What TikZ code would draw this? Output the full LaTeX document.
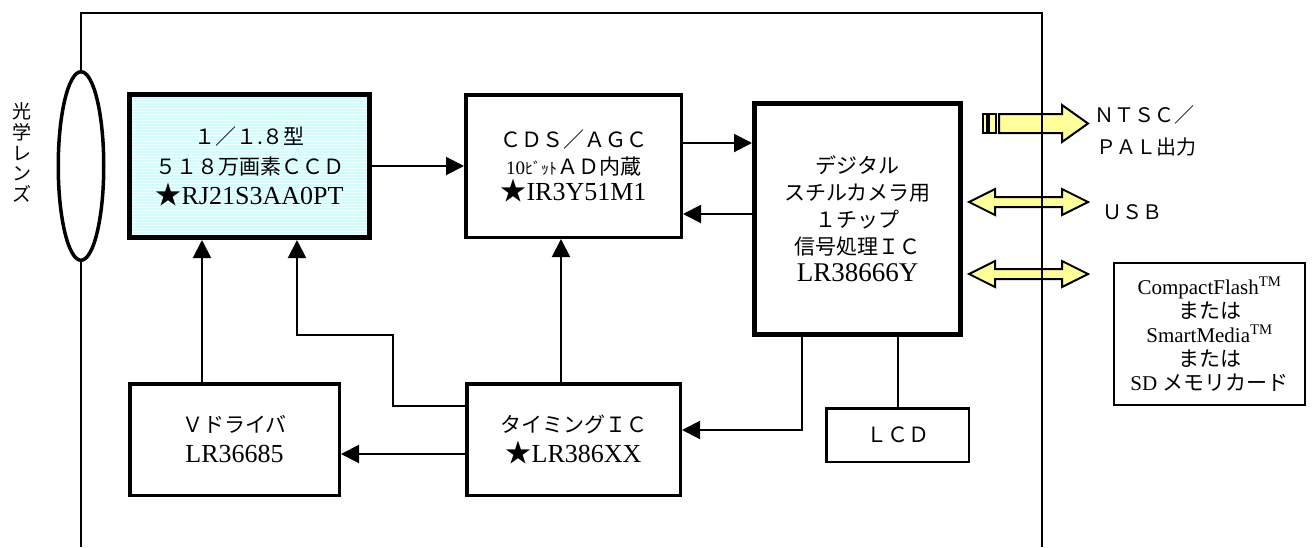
\documentclass[tikz,border=0pt]{standalone}
\usepackage{fontspec}
\setmainfont{Liberation Serif}
\newfontfamily\jp{Noto Sans CJK JP}
\usetikzlibrary{arrows.meta,shapes.geometric}
\definecolor{ccdcyan}{RGB}{204,255,255}
\definecolor{portyellow}{RGB}{255,255,153}
\newcommand\jt[1]{{\jp\fontsize{21}{24}\selectfont #1}}
\newcommand\jstar{{\jp ★}}

\begin{document}
\begin{tikzpicture}[x=1pt, y=-1pt,
		blk/.style = {draw, line width=3.5pt, align=center, font=\fontsize{26}{30}\selectfont},
		heavy/.style = {blk, line width=5pt},
		arr/.style = {line width=2pt, -{Triangle[length=18pt,width=18pt]}},
		port/.style = {draw, line width=2pt, fill=portyellow}]

	\useasboundingbox (0,0) rectangle (1315,547);

	% blocks
	\node[heavy, fill=ccdcyan, minimum width=240pt, minimum height=143pt,
		path picture={\foreach \yy in {1.5,4.5,...,150} \draw[white, line width=1pt] ([yshift=-\yy pt]path picture bounding box.north west) -- ++(260,0);}]
		(ccd) at (249.5,166) {\jt{１／１.８型}\\ \jt{５１８万画素ＣＣＤ}\\ \jstar RJ21S3AA0PT};
	\node[blk, minimum width=215.5pt, minimum height=142.5pt, font=\fontsize{26}{26.5}\selectfont]
		(cds) at (573.5,166) {\jt{ＣＤＳ／ＡＧＣ}\\ {\fontsize{19}{20}\selectfont 10}{\jp\fontsize{16}{20}\selectfont ﾋﾞｯﾄ}\jt{ＡＤ内蔵}\\ \jstar IR3Y51M1};
	\node[heavy, minimum width=206pt, minimum height=231pt, font=\fontsize{27}{27}\selectfont]
		(dsp) at (857.5,219) {\jt{デジタル}\\ \jt{スチルカメラ用}\\ \jt{１チップ}\\ \jt{信号処理ＩＣ}\\ LR38666Y};
	\node[blk, minimum width=209.5pt, minimum height=111.5pt] (vdrv) at (234.5,439.5) {\jt{Ｖドライバ}\\ LR36685};
	\node[blk, minimum width=213.5pt, minimum height=111.5pt] (timing) at (573.5,439.5) {\jt{タイミングＩＣ}\\ \jstar LR386XX};
	\node[blk, line width=2.5pt, minimum width=142.5pt, minimum height=53.5pt] (lcd) at (897.5,435) {\jt{ＬＣＤ}};
	\node[blk, line width=2pt, minimum width=191pt, minimum height=142pt, font=\fontsize{21}{24}\selectfont]
		(mem) at (1209.5,334) {CompactFlash\textsuperscript{TM}\\ \jt{または}\\ SmartMedia\textsuperscript{TM}\\ \jt{または}\\ SD \jt{メモリカード}};

	% lens
	\node[draw, ellipse, line width=3.5pt, minimum width=45.5pt, minimum height=188.5pt] (lens) at (81,166) {};
	\node[align=center, font=\jp\fontsize{19}{20.75}\selectfont] (lenslbl) at (22,152.5) {光\\学\\レ\\ン\\ズ};

	% outputs
	\draw[port] (983,114) rectangle (987,133);
	\draw[port] (989,114) rectangle (996,133);
	\draw[port] (999,114) -- (1062,114) -- (1062,105) -- (1088,123.5) -- (1062,142) -- (1062,133) -- (999,133) -- cycle;
	\foreach \yc in {202,274}
		\draw[port] (969,\yc) -- (995,\yc-13) -- (995,\yc-5) -- (1062,\yc-5) -- (1062,\yc-13) -- (1088,\yc)
			-- (1062,\yc+13) -- (1062,\yc+5) -- (995,\yc+5) -- (995,\yc+13) -- cycle;
	\node[anchor=west, font=\jp\fontsize{20}{24}\selectfont] (ntsc) at (1091,115) {ＮＴＳＣ／};
	\node[anchor=west, font=\jp\fontsize{20}{24}\selectfont] (pal) at (1093,147) {ＰＡＬ出力};
	\node[anchor=west, font=\jp\fontsize{20}{24}\selectfont] (usb) at (1099,212) {ＵＳＢ};

	% frame
	\draw[line width=2.5pt] (lens.north) -- (81,13) -- (1042,13) -- (1042,547);
	\draw[line width=2.5pt] (lens.south) -- (81,547);

	% signals
	\coordinate (bend1) at (393,335);
	\coordinate (bend2) at (297,335);
	\coordinate (bend3) at (802,430);
	\draw[arr] (ccd.east) -- (cds.west);
	\draw[arr] ([yshift=23pt]cds.east) -- ([yshift=23pt]cds.east -| dsp.west);
	\draw[arr] ([yshift=5pt]dsp.west) -- ([yshift=5pt]dsp.west -| cds.east);
	\draw[arr] ([xshift=-12.5pt]timing.north) -- ([xshift=-12.5pt]timing.north |- cds.south);
	\draw[arr] ([yshift=-14.5pt]timing.west) -- ([yshift=-14.5pt]timing.west -| vdrv.east);
	\draw[arr] ([xshift=-32.5pt]vdrv.north) -- ([xshift=-32.5pt]vdrv.north |- ccd.south);
	\draw[arr] ([yshift=33.5pt]timing.west) -| (bend1) -- (bend2) -- (bend2 |- ccd.south);
	\draw[arr] (bend3 |- dsp.south) -- (bend3) -- (bend3 -| timing.east);
	\draw[line width=2pt] (lcd.north) -- (lcd.north |- dsp.south);
\end{tikzpicture}
\end{document}
